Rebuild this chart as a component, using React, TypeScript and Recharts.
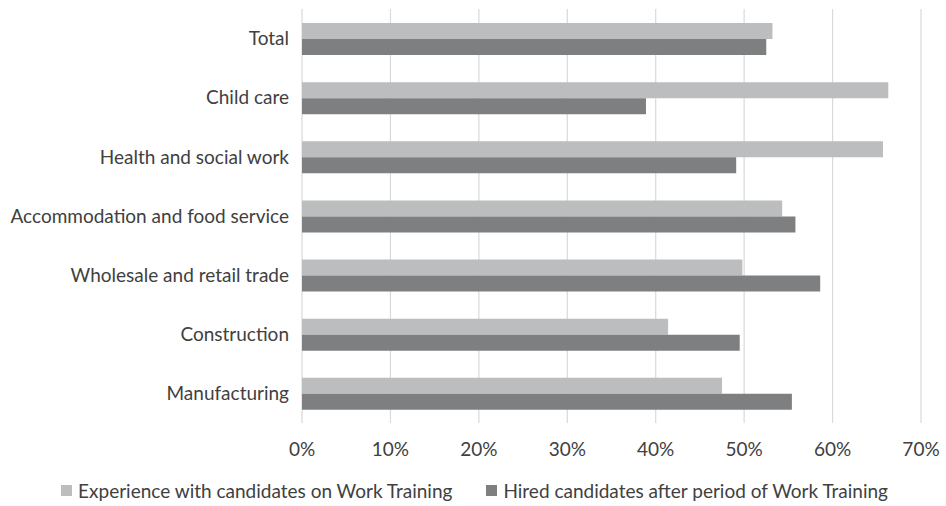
import { BarChart, Bar, XAxis, YAxis, CartesianGrid, Legend } from "recharts";

const categories = [
  "Total",
  "Child care",
  "Health and social work",
  "Accommodation and food service",
  "Wholesale and retail trade",
  "Construction",
  "Manufacturing",
];
const experienceValues = [53.2, 66.3, 65.7, 54.3, 49.8, 41.4, 47.5];
const hiredValues = [52.5, 38.9, 49.1, 55.8, 58.6, 49.5, 55.4];
const xTicks = [0, 10, 20, 30, 40, 50, 60, 70];

const seriesNames = [
  "Experience with candidates on Work Training",
  "Hired candidates after period of Work Training",
];
const LIGHT = "#bcbdbe";
const DARK = "#7e7f80";
const TEXT = "#404040";
const FONT = "Lato, 'Open Sans', sans-serif";
const FS = 19;

const data = categories.map((name, i) => ({
  name,
  experience: experienceValues[i],
  hired: hiredValues[i],
}));

function LegendBox() {
  const items = [
    { label: seriesNames[0], color: LIGHT },
    { label: seriesNames[1], color: DARK },
  ];
  return (
    <div style={{ display: "flex", justifyContent: "center", gap: 34, marginLeft: 28 }}>
      {items.map((it) => (
        <div key={it.label} style={{ display: "flex", alignItems: "center", gap: 6 }}>
          <span style={{ width: 11, height: 11, background: it.color, display: "inline-block" }} />
          <span style={{ fontSize: FS, color: TEXT, fontFamily: FONT }}>{it.label}</span>
        </div>
      ))}
    </div>
  );
}

export default function App() {
  return (
    <div style={{ position: "absolute", left: 0, top: 0, background: "#fff" }}>
      <BarChart
        width={946}
        height={506}
        data={data}
        layout="vertical"
        margin={{ top: 9, right: 25, bottom: 4, left: 0 }}
        barCategoryGap="23.7%"
        barGap={0}
        style={{ fontFamily: FONT }}
      >
        <CartesianGrid horizontal={false} stroke="#d9d9d9" strokeWidth={1.2} />
        <XAxis
          type="number"
          domain={[0, 70]}
          ticks={xTicks}
          tickFormatter={(v: number) => `${v}%`}
          axisLine={false}
          tickLine={false}
          tickMargin={14}
          height={56}
          tick={{ fontSize: FS, fill: TEXT }}
        />
        <YAxis
          type="category"
          dataKey="name"
          width={302}
          axisLine={false}
          tickLine={false}
          tickMargin={7}
          tick={{ fontSize: FS, fill: TEXT }}
        />
        <Legend verticalAlign="bottom" content={() => <LegendBox />} />
        <Bar dataKey="experience" name={seriesNames[0]} fill={LIGHT} isAnimationActive={false} />
        <Bar dataKey="hired" name={seriesNames[1]} fill={DARK} isAnimationActive={false} />
      </BarChart>
    </div>
  );
}
